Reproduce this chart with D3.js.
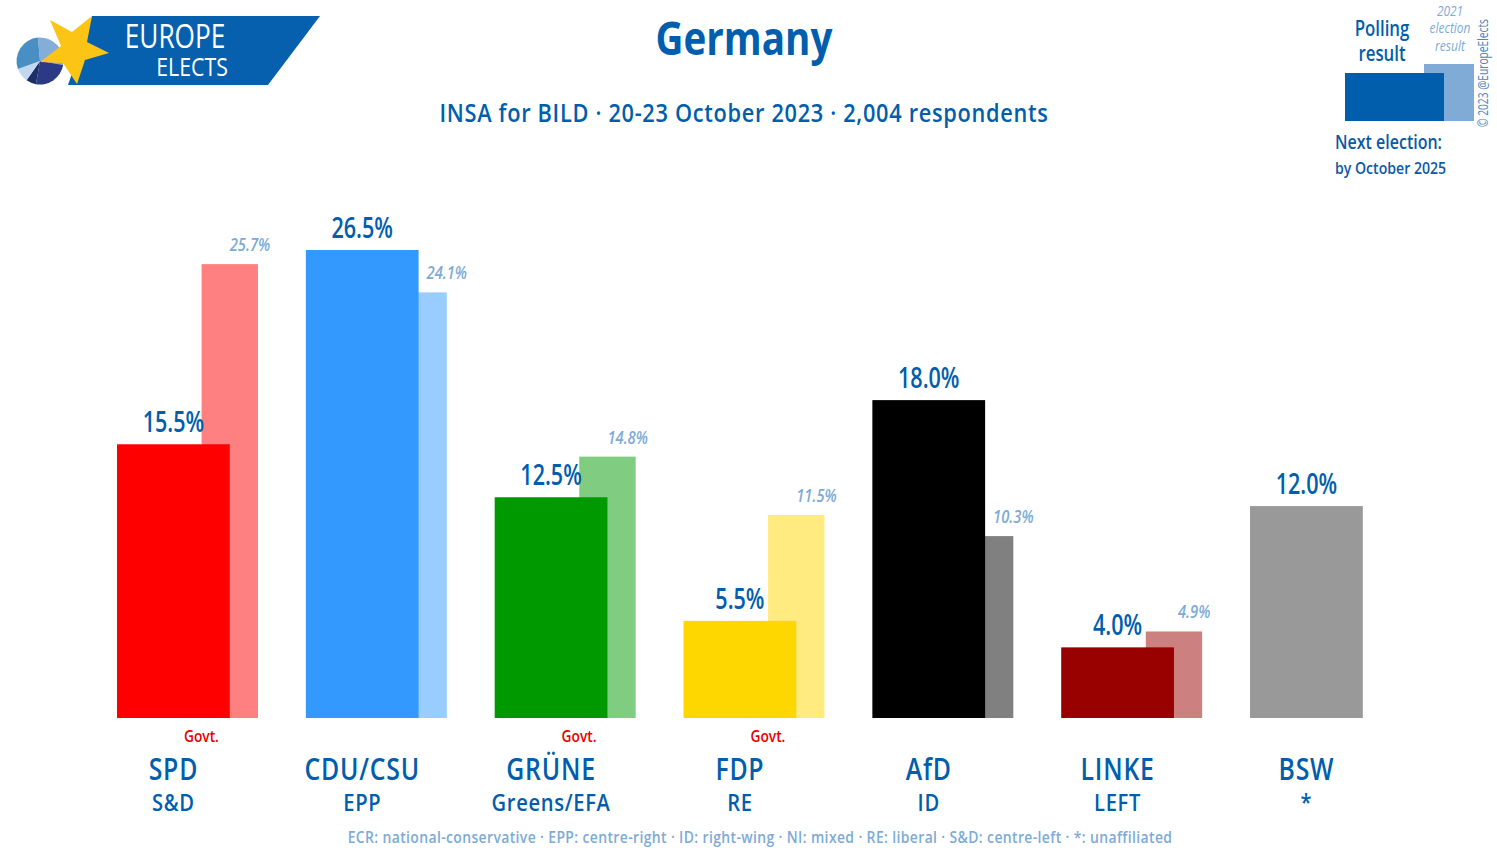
<!DOCTYPE html>
<html>
<head>
<meta charset="utf-8">
<script src="https://cdn.jsdelivr.net/npm/d3@7"></script>
<style>
  html, body { margin: 0; padding: 0; background: #fff; }
  text { font-family: "Open Sans", sans-serif; }
</style>
</head>
<body>
<div id="output"></div>
<script>
const parties = ["SPD", "CDU/CSU", "GRÜNE", "FDP", "AfD", "LINKE", "BSW"];
const groups = ["S&D", "EPP", "Greens/EFA", "RE", "ID", "LEFT", "*"];
const poll = [15.5, 26.5, 12.5, 5.5, 18.0, 4.0, 12.0];
const prev = [25.7, 24.1, 14.8, 11.5, 10.3, 4.9, null];
const govt = ["SPD", "GRÜNE", "FDP"];
const pollColors = ["#ff0000", "#3399ff", "#009900", "#ffd700", "#000000", "#990000", "#999999"];
const prevColors = ["#ff8080", "#99ccff", "#80cc80", "#ffeb80", "#808080", "#cc8080", "#cccccc"];
const logoSlices = [105, 90, 25, 35, 105];
const logoColors = ["#84aed8", "#2a3a85", "#1b2f66", "#c3d8ee", "#4a8fc4"];

const BLUE = "#005ead";
const LIGHT = "#7dabd6";

function PlotChart(parent_element = "output") {
  const width = 1497, height = 852;
  const svg = d3.select("#" + parent_element).append("svg")
    .attr("width", width)
    .attr("height", height)
    .style("display", "block");

  // text helper, the squeeze factor stands in for the narrow original font
  function label(x, y, str, size, color, o = {}) {
    return svg.append("text")
      .attr("transform", `translate(${x},${y}) rotate(${o.rotate || 0}) scale(${o.sx || 0.8},1)`)
      .attr("text-anchor", o.anchor || "middle")
      .attr("fill", color)
      .style("font-size", size + "px")
      .style("font-weight", o.weight || 600)
      .style("font-style", o.italic ? "italic" : "normal")
      .style("letter-spacing", (o.ls || 0) + "px")
      .text(str);
  }

  // Scales
  const x = d3.scaleBand().domain(parties).range([117, 1391]).paddingInner(0.2536).paddingOuter(0);
  const y = d3.scaleLinear().domain([0, 26.5]).range([718, 250]);
  const bw = x.bandwidth();
  const centre = d => x(d) + bw * 0.4;

  // Previous election bars go underneath
  parties.forEach((p, i) => {
    if (prev[i] === null) return;
    svg.append("rect")
      .attr("x", x(p) + bw * 0.6)
      .attr("y", y(prev[i]))
      .attr("width", bw * 0.4)
      .attr("height", y(0) - y(prev[i]))
      .attr("fill", prevColors[i]);
  });

  // Polling bars
  svg.selectAll(".poll")
    .data(parties)
    .enter().append("rect")
    .attr("class", "poll")
    .attr("x", d => x(d))
    .attr("y", (d, i) => y(poll[i]))
    .attr("width", bw * 0.8)
    .attr("height", (d, i) => y(0) - y(poll[i]))
    .attr("fill", (d, i) => pollColors[i]);

  parties.forEach((p, i) => {
    label(centre(p), y(poll[i]) - 12, poll[i].toFixed(1) + "%", 28, BLUE, {sx: 0.77});
    if (prev[i] !== null) {
      const off = prev[i] < poll[i] ? 0 : -8;
      label(x(p) + bw + off, y(prev[i]) - 13, prev[i].toFixed(1) + "%", 18, LIGHT, {italic: true, sx: 0.82, weight: 600});
    }
    if (govt.includes(p)) label(centre(p) + 28, 742, "Govt.", 16, "#e60000", {sx: 0.86, weight: 600});
    label(centre(p), 780, p, 31, BLUE, {sx: 0.8, ls: 1});
    label(centre(p), 811, groups[i], 24, BLUE, {sx: 0.84, ls: 0.8});
  });

  // Titles
  label(744, 55, "Germany", 46, BLUE, {sx: 0.84, weight: 700});
  label(744, 122, "INSA for BILD · 20-23 October 2023 · 2,004 respondents", 25, BLUE, {sx: 0.87, ls: 0.8});
  label(760, 843, "ECR: national-conservative · EPP: centre-right · ID: right-wing · NI: mixed · RE: liberal · S&D: centre-left · *: unaffiliated", 16, LIGHT, {sx: 0.87, ls: 0.45});

  // Legend, top right
  svg.append("rect").attr("x", 1424).attr("y", 64).attr("width", 50).attr("height", 57).attr("fill", "#7fabd6");
  svg.append("rect").attr("x", 1345).attr("y", 73).attr("width", 99).attr("height", 48).attr("fill", BLUE);
  label(1382, 36, "Polling", 21, BLUE, {sx: 0.8});
  label(1382, 61, "result", 21, BLUE, {sx: 0.8});
  label(1450, 16, "2021", 14, LIGHT, {italic: true, sx: 0.85, weight: 500});
  label(1450, 33, "election", 15, LIGHT, {italic: true, sx: 0.8, weight: 500});
  label(1450, 51, "result", 15, LIGHT, {italic: true, sx: 0.8, weight: 500});
  label(1335, 149, "Next election:", 20, "#0b5aa5", {anchor: "start", sx: 0.8});
  label(1335, 174, "by October 2025", 17, "#0b5aa5", {anchor: "start", sx: 0.83});
  label(1488, 127, "© 2023 @EuropeElects", 14, "#4d86bd", {anchor: "start", rotate: -90, sx: 0.73, weight: 400});

  // Logo
  const logo = svg.append("g");
  logo.append("path").attr("d", "M92,16 L320,16 L268,85 L68,85 Z").attr("fill", "#0660ae");
  const pie = d3.pie().value(d => d).sort(null).startAngle(-0.09).endAngle(2 * Math.PI - 0.09)(logoSlices);
  const arc = d3.arc().innerRadius(0).outerRadius(23.5);
  logo.append("g").attr("transform", "translate(40,61)")
    .selectAll("path").data(pie).enter().append("path")
    .attr("d", arc)
    .attr("fill", (d, i) => logoColors[i]);
  logo.append("path")
    .attr("d", "M92,16 L87,42 L109,53 L85,60 L77,84 L63,63 L40,62 L61,46 L50,20 L72,32 Z")
    .attr("fill", "#fcc414");
  label(175, 48, "EUROPE", 32, "#fff", {sx: 0.82, weight: 400});
  label(192, 76, "ELECTS", 26, "#fff", {sx: 0.82, weight: 400});
}

document.addEventListener('DOMContentLoaded', () => {
  PlotChart();
});
</script>
</body>
</html>
